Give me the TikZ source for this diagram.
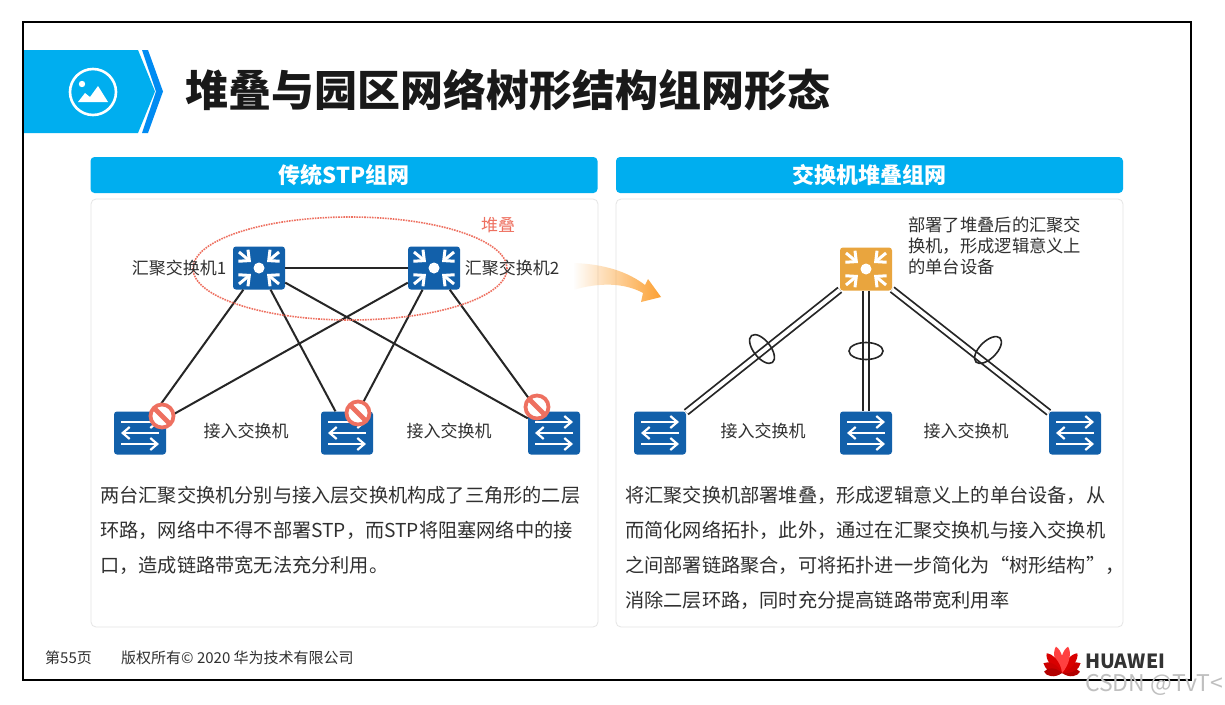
\documentclass[tikz,border=0pt]{standalone}
\usepackage{fontspec}
\usepackage{xcolor}
\setmainfont{Noto Sans CJK SC}
\usetikzlibrary{arrows.meta,shapes.geometric,fadings}
\definecolor{hwcyan}{RGB}{0,174,239}
\definecolor{hwblue}{RGB}{18,96,170}
\definecolor{hworange}{RGB}{233,165,62}
\definecolor{hwarrow}{RGB}{252,160,50}
\definecolor{hwsalmon}{RGB}{238,112,96}
\definecolor{hwtext}{RGB}{48,48,48}
\tikzset{
  panelbox/.style={draw=black!10,line width=0.8pt,rounded corners=5pt,minimum width=507pt,minimum height=428pt,inner sep=0pt},
  headbox/.style={fill=hwcyan,rounded corners=4pt,minimum width=507pt,minimum height=36pt,inner sep=0pt,text=white,font=\fontsize{22}{26}\selectfont\bfseries},
  device/.style={rounded corners=3pt,minimum width=52pt,minimum height=43pt,inner sep=0pt},
  label/.style={text=hwtext,inner sep=0pt,font=\fontsize{17}{21}\selectfont},
  bodytext/.style={text=hwtext,inner sep=0pt,align=left,anchor=north west,font=\fontsize{19.2}{35}\selectfont},
  link/.style={draw=black!85,line width=2pt},
  duallink/.style={draw=black!85,line width=1.8pt,double=white,double distance=4pt},
  bundle/.style={draw=black!85,line width=1.6pt,ellipse,minimum width=34pt,minimum height=17pt,inner sep=0pt},
  aggicon/.pic={
    \foreach \sx/\sy in {1/1,1/-1,-1/1,-1/-1} {
      \draw[white,line width=3pt,-{Straight Barb[length=8pt,width=15pt]}] (\sx*20,\sy*16) -- (\sx*8,\sy*6);
    }
    \fill[white] (0,0) circle (5.5);
  },
  accicon/.pic={
    \draw[white,line width=2.2pt,-{Straight Barb[length=7pt,width=12pt]}] (-19,-11) -- (19,-11);
    \draw[white,line width=2.2pt,-{Straight Barb[length=7pt,width=12pt]}] (19,0) -- (-19,0);
    \draw[white,line width=2.2pt,-{Straight Barb[length=7pt,width=12pt]}] (-19,11) -- (19,11);
  },
  stopsign/.pic={
    \draw[hwsalmon,fill=white,line width=3.8pt] (0,0) circle (11.5);
    \draw[hwsalmon,line width=4.8pt] (-8,-8) -- (8,8);
  },
}
\begin{document}
\begin{tikzpicture}[x=1pt,y=-1pt]
  \useasboundingbox (0,0) rectangle (1225,704);
  \fill[white] (0,0) rectangle (1225,704);
  \draw[black,line width=2.6pt] (23,22) rectangle (1191,680);
  % title band
  \fill[hwcyan] (24,50) -- (138,50) -- (155,91.5) -- (138,133) -- (24,133) -- cycle;
  \fill[hwcyan!80!blue] (142,50) -- (148,50) -- (163,91.5) -- (148,133) -- (142,133) -- (156,91.5) -- cycle;
  \draw[white,line width=2.6pt] (93,92) circle (23);
  \fill[white] (82,84) circle (3.2);
  \fill[white] (78,102) -- (85,93) -- (90,97) -- (98,86) -- (108,102) -- cycle;
  \node[anchor=west,inner sep=0pt,text=black!90,font=\fontsize{43}{50}\selectfont\bfseries] (title) at (185,90) {堆叠与园区网络树形结构组网形态};
  % panels
  \node[panelbox] (panela) at (344.5,413) {};
  \node[panelbox] (panelb) at (869.5,413) {};
  \node[headbox] (heada) at (344,175) {传统STP组网};
  \node[headbox] (headb) at (869.5,175) {交换机堆叠组网};
  % left network
  \node[device,fill=hwblue] (swa) at (259,268) {};
  \node[device,fill=hwblue] (swb) at (434,268) {};
  \node[device,fill=hwblue] (acca) at (140,433) {};
  \node[device,fill=hwblue] (accb) at (347,433) {};
  \node[device,fill=hwblue] (accc) at (554,433) {};
  \draw[link] (swa) -- (swb);
  \foreach \a in {swa,swb} {
    \foreach \b in {acca,accb,accc} {
      \draw[link] (\a) -- (\b);
    }
  }
  \node[ellipse,draw=hwsalmon,line width=1.6pt,densely dotted,minimum width=314pt,minimum height=103pt,inner sep=0pt] (stack) at (350,268.5) {};
  \foreach \n in {swa,swb} {
    \pic at (\n) {aggicon};
  }
  \foreach \n in {acca,accb,accc} {
    \pic at (\n) {accicon};
  }
  \pic at (162,416) {stopsign};
  \pic at (358,413) {stopsign};
  \pic at (537,407) {stopsign};
  \node[label] (laba) at (179,268) {汇聚交换机1};
  \node[label] (labb) at (512,268) {汇聚交换机2};
  \node[label] (labc) at (246,431) {接入交换机};
  \node[label] (labd) at (449,431) {接入交换机};
  \node[label,text=hwsalmon] (labe) at (498,225) {堆叠};
  \node[bodytext] (texta) at (100,485.5) {两台汇聚交换机分别与接入层交换机构成了三角形的二层\\环路，网络中不得不部署STP，而STP将阻塞网络中的接\\口，造成链路带宽无法充分利用。};
  % arrow between panels
  \fill[hwarrow,path fading=west] (573,263) .. controls (605,264) and (628,272) .. (645,285) -- (648,279) -- (661,297) -- (641,302) -- (643,293) .. controls (625,283) and (600,282) .. (573,290) -- cycle;
  % right network
  \node[device,fill=hworange] (swc) at (866,269) {};
  \node[device,fill=hwblue] (accd) at (660,433) {};
  \node[device,fill=hwblue] (acce) at (866,433) {};
  \node[device,fill=hwblue] (accf) at (1075,433) {};
  \foreach \b in {accd,acce,accf} {
    \draw[duallink] (swc) -- (\b);
  }
  \pic at (swc) {aggicon};
  \foreach \n in {accd,acce,accf} {
    \pic at (\n) {accicon};
  }
  \node[bundle,rotate=-52] (buna) at (762,349) {};
  \node[bundle] (bunb) at (866,351) {};
  \node[bundle,rotate=45] (bunc) at (988,350) {};
  \node[label] (labf) at (763,431) {接入交换机};
  \node[label] (labg) at (966,431) {接入交换机};
  \node[label,anchor=north west,align=left,font=\fontsize{17.3}{21}\selectfont] (labh) at (908,217) {部署了堆叠后的汇聚交\\换机，形成逻辑意义上\\的单台设备};
  \node[bodytext] (textb) at (625,485.5) {将汇聚交换机部署堆叠，形成逻辑意义上的单台设备，从\\而简化网络拓扑，此外，通过在汇聚交换机与接入交换机\\之间部署链路聚合，可将拓扑进一步简化为“树形结构”，\\消除二层环路，同时充分提高链路带宽利用率};
  % footer
  \node[label,font=\fontsize{15}{18}\selectfont] (page) at (68.5,658) {第55页};
  \node[label,anchor=west,font=\fontsize{15}{18}\selectfont] (copy) at (121,658) {版权所有© 2020 华为技术有限公司};
  \foreach \a/\l/\c in {-86/18/red!70!black,-62/21/red!80!black,-38/25/red!85!black,-13/27/red!75,13/27/red!75,38/25/red!85!black,62/21/red!80!black,86/18/red!70!black} {
    \fill[\c,rotate around={\a:(1062,673)}] (1062,673) .. controls (1062-6,673-\l*0.4) and (1062-4.5,673-\l*0.85) .. (1062,673-\l) .. controls (1062+4.5,673-\l*0.85) and (1062+6,673-\l*0.4) .. (1062,673);
  }
  \node[anchor=west,inner sep=0pt,text=black!80,font=\fontsize{19.5}{22}\selectfont\bfseries] (logo) at (1085,661) {HUAWEI};
  \node[anchor=west,inner sep=0pt,text=black!25,font=\fontsize{23}{26}\selectfont] (mark) at (1085,685) {CSDN @TvT<};
\end{tikzpicture}
\end{document}
